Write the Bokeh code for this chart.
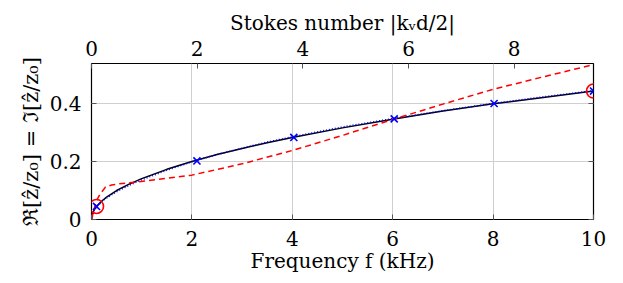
from bokeh.plotting import figure
from bokeh.models import Range1d, LinearAxis, FixedTicker
from bokeh.embed import file_html
from bokeh.resources import INLINE

# Frequency axis (kHz)
f_black = [0, 0.02, 0.05, 0.1, 0.2, 0.3, 0.5, 0.75, 1.0, 1.5, 2.0, 2.5, 3.0, 3.5, 4.0, 5.0, 6.0, 7.0, 8.0, 9.0, 10.0]
y_black = [0, 0.020, 0.032, 0.045, 0.063, 0.077, 0.100, 0.122, 0.141, 0.173, 0.200, 0.224, 0.245, 0.265, 0.283, 0.316, 0.346, 0.374, 0.399, 0.421, 0.443]

f_blue = [0, 0.05, 0.1, 0.2, 0.3, 0.5, 0.75, 1.0, 1.5, 2.0, 2.5, 3.0, 3.5, 4.0, 5.0, 6.0, 7.0, 8.0, 9.0, 10.0]
y_blue = [0, 0.031, 0.044, 0.061, 0.074, 0.096, 0.118, 0.137, 0.170, 0.199, 0.224, 0.246, 0.267, 0.285, 0.319, 0.348, 0.375, 0.400, 0.423, 0.444]

f_red = [0, 0.05, 0.1, 0.18, 0.28, 0.4, 0.54, 0.88, 1.5, 2.0, 3.0, 4.0, 5.0, 6.0, 7.0, 8.0, 9.0, 10.0]
y_red = [0, 0.035, 0.065, 0.090, 0.112, 0.119, 0.123, 0.129, 0.142, 0.153, 0.192, 0.238, 0.290, 0.345, 0.398, 0.449, 0.492, 0.534]

f_cross = [0.1, 2.1, 4.03, 6.03, 8.02, 10.0]
y_cross = [0.045, 0.202, 0.283, 0.347, 0.400, 0.443]

f_circle = [0.1, 10.0]
y_circle = [0.045, 0.443]

x_ticks = [0, 2, 4, 6, 8, 10]
y_ticks = [0, 0.2, 0.4]
stokes_ticks = [0, 2, 4, 6, 8]

FONT = "DejaVu Serif"
FS = "20px"

p = figure(width=623, height=283, output_backend="svg", toolbar_location=None,
           x_range=Range1d(0, 10), y_range=Range1d(0, 0.538),
           min_border_left=91, min_border_right=30, min_border_top=63, min_border_bottom=64)
p.extra_x_ranges = {"stokes": Range1d(0, 9.5)}

p.outline_line_color = "black"
p.outline_line_width = 1.2
p.background_fill_color = "white"
p.border_fill_color = "white"

p.xgrid.ticker = FixedTicker(ticks=x_ticks)
p.ygrid.ticker = FixedTicker(ticks=y_ticks)
for g in (p.xgrid, p.ygrid):
    g.grid_line_color = "#cfcfcf"
    g.grid_line_width = 1

def style_axis(ax):
    ax.axis_line_color = None
    ax.major_tick_in = 5
    ax.major_tick_out = 0
    ax.major_tick_line_color = "#555555"
    ax.minor_tick_line_color = None
    ax.major_label_text_font = FONT
    ax.major_label_text_font_size = FS
    ax.major_label_text_color = "black"
    ax.axis_label_text_font = FONT
    ax.axis_label_text_font_size = FS
    ax.axis_label_text_font_style = "normal"
    ax.axis_label_text_color = "black"

xa = p.xaxis[0]
xa.ticker = FixedTicker(ticks=x_ticks)
xa.axis_label = "Frequency f (kHz)"
style_axis(xa)
xa.major_label_standoff = 11
xa.axis_label_standoff = 0

ya = p.yaxis[0]
ya.ticker = FixedTicker(ticks=y_ticks)
ya.axis_label = "ℜ[ẑ/z₀] = ℑ[ẑ/z₀]"
style_axis(ya)
ya.axis_label_text_font_size = "21px"
ya.major_label_standoff = 10
ya.axis_label_standoff = 4
ya.major_label_overrides = {0: "0", 0.2: "0.2", 0.4: "0.4"}

top = LinearAxis(x_range_name="stokes", ticker=FixedTicker(ticks=stokes_ticks),
                 axis_label="Stokes number |kᵥd/2|")
style_axis(top)
top.major_label_standoff = 8
top.axis_label_standoff = 3
p.add_layout(top, "above")

right = LinearAxis(ticker=FixedTicker(ticks=y_ticks))
style_axis(right)
right.major_label_text_font_size = "0px"
right.major_label_text_color = None
right.major_label_standoff = 0
p.add_layout(right, "right")

p.line(f_black, y_black, line_color="black", line_width=1.5)
p.line(f_blue, y_blue, line_color="blue", line_width=1.6, line_dash="1 2")
p.line(f_red, y_red, line_color="red", line_width=1.5, line_dash="6 4")
p.scatter(f_cross, y_cross, marker="x", size=10, line_color="blue", line_width=1.6)
p.scatter(f_circle, y_circle, marker="circle", size=14, line_color="red", line_width=1.6, fill_color=None)

open("out.html", "w").write(file_html(p, INLINE))
